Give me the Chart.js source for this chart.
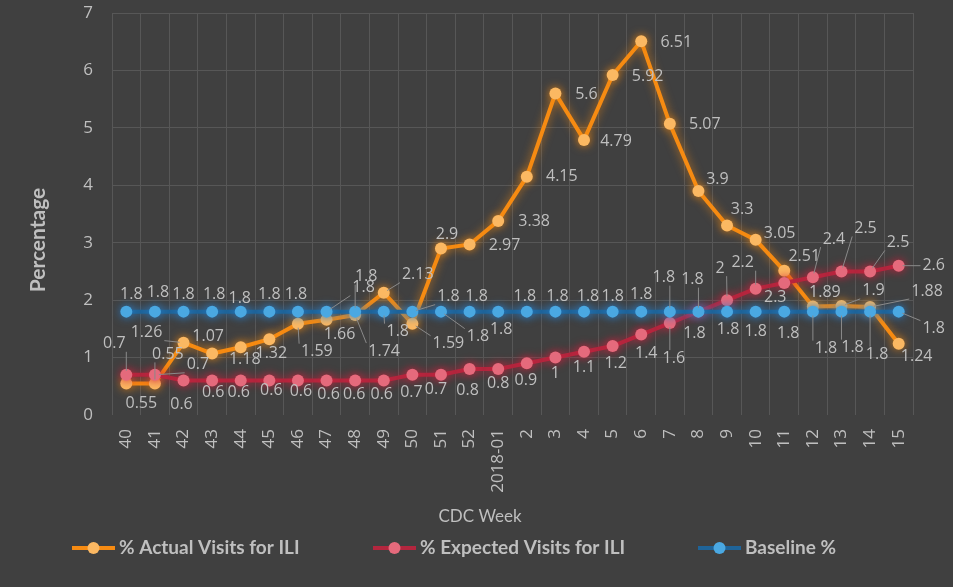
<!DOCTYPE html>
<html>
<head>
<meta charset="utf-8">
<title>ILI visits by CDC week</title>
<script src="https://cdn.jsdelivr.net/npm/chart.js@4.4.1/dist/chart.umd.min.js"></script>
<style>
  html, body { margin: 0; padding: 0; background: #404040; }
  #wrap { width: 953px; height: 587px; position: relative; }
</style>
</head>
<body>
<div id="wrap"><canvas id="iliChart"></canvas></div>
<script>
// ---------- data ----------
const weeks = ['40', '41', '42', '43', '44', '45', '46', '47', '48', '49', '50', '51', '52',
  '2018-01', '2', '3', '4', '5', '6', '7', '8', '9', '10', '11', '12', '13', '14', '15'];
const actualVisits = [0.55, 0.55, 1.26, 1.07, 1.18, 1.32, 1.59, 1.66, 1.74, 2.13, 1.59, 2.9, 2.97,
  3.38, 4.15, 5.6, 4.79, 5.92, 6.51, 5.07, 3.9, 3.3, 3.05, 2.51, 1.89, 1.9, 1.88, 1.24];
const expectedVisits = [0.7, 0.7, 0.6, 0.6, 0.6, 0.6, 0.6, 0.6, 0.6, 0.6, 0.7, 0.7, 0.8,
  0.8, 0.9, 1, 1.1, 1.2, 1.4, 1.6, 1.8, 2, 2.2, 2.3, 2.4, 2.5, 2.5, 2.6];
const baseline = [1.8, 1.8, 1.8, 1.8, 1.8, 1.8, 1.8, 1.8, 1.8, 1.8, 1.8, 1.8, 1.8,
  1.8, 1.8, 1.8, 1.8, 1.8, 1.8, 1.8, 1.8, 1.8, 1.8, 1.8, 1.8, 1.8, 1.8, 1.8];
const yMin = 0, yMax = 7, yStep = 1;

// data label placement, [dx, dy, leader] in px relative to the point (Excel put them by hand)
const actualLabelPos = [[15, 20], [13, -29, 1], [-37, -10, 1], [-4, -17], [4, 12], [2, 14], [19, 28, 1],
  [13, 15], [29, 36, 1], [34, -18, 1], [36, 20, 1], [6, -14], [35, 1], [36, 1], [35, 0], [31, 1], [32, 2],
  [35, 1], [35, 1], [35, 1], [19, -12], [15, -16], [24, -6], [20, -14], [12, -14], [32, -15, 1], [57, -16, 1], [18, 13]];
const expectedLabelPos = [[-12, -31, 1], [43, -10, 1], [-2, 24], [1, 12], [-2, 12], [2, 10], [3, 11],
  [2, 14], [-1, 14], [-2, 14], [-1, 18], [-5, 15], [-2, 21], [0, 14], [-1, 17], [0, 16], [0, 16], [3, 17],
  [5, 19], [4, 35, 1], [-4, 22], [-7, -32, 1], [-13, -26, 1], [-9, 15], [21, -38, 1], [24, -43, 1], [28, -29, 1], [35, 0, 1]];
const baselineLabelPos = [[5, -17], [3, -19], [0, -17], [2, -17], [-1, -13], [0, -17], [-2, -17],
  [37, -24, 1], [11, -35, 1], [14, 20, 1], [36, -15, 1], [37, 25, 1], [7, -15], [3, 18], [-2, -15], [2, -15],
  [4, -15], [0, -15], [0, -17], [-6, -34, 1], [-6, -32, 1], [1, 18], [0, 20], [4, 22], [13, 37, 1], [11, 36, 1], [7, 43, 1], [35, 17, 1]];

const TEXT = '#bfbfbf';
const GRID = '#575757';
const legendStarts = [72, 373, 698];

// ---------- plugins ----------
// soft glow behind each series, like the Excel "glow" effect
const glowPlugin = {
  id: 'glow',
  beforeDatasetDraw(chart, args) {
    const ds = chart.data.datasets[args.index];
    chart.ctx.save();
    chart.ctx.shadowColor = ds.glowColor;
    chart.ctx.shadowBlur = 10;
  },
  afterDatasetDraw(chart) {
    chart.ctx.restore();
  }
};

// value labels next to every point, with leader lines where Excel moved them away
const valueLabels = {
  id: 'valueLabels',
  afterDatasetsDraw(chart) {
    const ctx = chart.ctx;
    ctx.save();
    ctx.font = '16px "Open Sans"';
    ctx.textAlign = 'center';
    ctx.textBaseline = 'middle';
    chart.data.datasets.forEach((ds, di) => {
      const meta = chart.getDatasetMeta(di);
      meta.data.forEach((pt, i) => {
        const pos = ds.labelPos[i];
        const text = String(ds.data[i]);
        const lx = pt.x + pos[0];
        const ly = pt.y + pos[1];
        if (pos[2]) {
          const hw = ctx.measureText(text).width / 2 + 2;
          const hh = 8;
          const ex = Math.min(Math.max(pt.x, lx - hw), lx + hw);
          const ey = Math.min(Math.max(pt.y, ly - hh), ly + hh);
          const len = Math.hypot(ex - pt.x, ey - pt.y);
          if (len > 7) {
            ctx.strokeStyle = '#8a8a8a';
            ctx.lineWidth = 1;
            ctx.beginPath();
            ctx.moveTo(pt.x + (ex - pt.x) / len * 4, pt.y + (ey - pt.y) / len * 4);
            ctx.lineTo(ex, ey);
            ctx.stroke();
          }
        }
        ctx.fillStyle = TEXT;
        ctx.fillText(text, lx, ly);
      });
    });
    ctx.restore();
  }
};

// axis titles and legend drawn by hand so they sit where Excel put them
const frameText = {
  id: 'frameText',
  afterDraw(chart) {
    const ctx = chart.ctx;
    ctx.save();
    ctx.fillStyle = TEXT;
    ctx.textAlign = 'center';
    ctx.textBaseline = 'middle';
    ctx.font = '17px Lato';
    ctx.fillText('CDC Week', 480, 517);
    ctx.font = 'bold 21px Lato';
    ctx.translate(38, 240);
    ctx.rotate(-Math.PI / 2);
    ctx.fillText('Percentage', 0, 0);
    ctx.restore();

    ctx.save();
    ctx.font = 'bold 19px Lato';
    ctx.textBaseline = 'middle';
    const y = 548;
    chart.data.datasets.forEach((ds, i) => {
      const x = legendStarts[i];
      ctx.strokeStyle = ds.borderColor;
      ctx.lineWidth = 4;
      ctx.beginPath();
      ctx.moveTo(x, y);
      ctx.lineTo(x + 43, y);
      ctx.stroke();
      ctx.fillStyle = ds.pointBackgroundColor;
      ctx.beginPath();
      ctx.arc(x + 21.5, y, 6, 0, Math.PI * 2);
      ctx.fill();
      ctx.fillStyle = TEXT;
      ctx.fillText(ds.label, x + 47, y);
    });
    ctx.restore();
  }
};

// ---------- chart ----------
Chart.defaults.font.family = '"Open Sans", sans-serif';
Chart.defaults.color = TEXT;

const iliCtx = document.getElementById('iliChart');
new Chart(iliCtx, {
  type: 'line',
  data: {
    labels: weeks,
    datasets: [
      {
        label: '% Actual Visits for ILI',
        data: actualVisits,
        labelPos: actualLabelPos,
        borderColor: '#f68b12',
        pointBackgroundColor: '#fbb862',
        pointBorderColor: '#fbb862',
        glowColor: 'rgba(246,139,18,0.75)',
        order: 3
      },
      {
        label: '% Expected Visits for ILI',
        data: expectedVisits,
        labelPos: expectedLabelPos,
        borderColor: '#b3263e',
        pointBackgroundColor: '#e56a7c',
        pointBorderColor: '#e56a7c',
        glowColor: 'rgba(210,30,60,0.85)',
        order: 2
      },
      {
        label: 'Baseline %',
        data: baseline,
        labelPos: baselineLabelPos,
        borderColor: '#1f6499',
        pointBackgroundColor: '#4aa8e2',
        pointBorderColor: '#4aa8e2',
        glowColor: 'rgba(40,130,210,0.9)',
        order: 1
      }
    ]
  },
  options: {
    responsive: true,
    maintainAspectRatio: false,
    animation: false,
    layout: { padding: { left: 0, right: 40, top: 13, bottom: 55 } },
    elements: {
      line: { borderWidth: 4, tension: 0 },
      point: { radius: 6, borderWidth: 0, hoverRadius: 7 }
    },
    plugins: {
      legend: { display: false },
      tooltip: { enabled: true }
    },
    scales: {
      x: {
        offset: true,
        grid: { offset: true, color: GRID, drawTicks: false },
        border: { display: false },
        ticks: {
          autoSkip: false,
          minRotation: 90,
          maxRotation: 90,
          padding: 14,
          color: TEXT,
          font: { size: 17 }
        },
        afterFit: (scale) => {
          scale.height = 117;
          scale.paddingTop = 0;
          scale.paddingBottom = 0;
        }
      },
      y: {
        min: yMin,
        max: yMax,
        grid: {
          color: (c) => (c.tick && c.tick.value === 0 ? 'rgba(0,0,0,0)' : GRID),
          drawTicks: false
        },
        border: { display: false },
        ticks: {
          stepSize: yStep,
          padding: 19,
          color: TEXT,
          font: { size: 17 }
        },
        afterFit: (scale) => {
          scale.width = 112;
          scale.paddingTop = 0;
          scale.paddingBottom = 0;
        }
      }
    }
  },
  plugins: [glowPlugin, valueLabels, frameText]
});
</script>
</body>
</html>
